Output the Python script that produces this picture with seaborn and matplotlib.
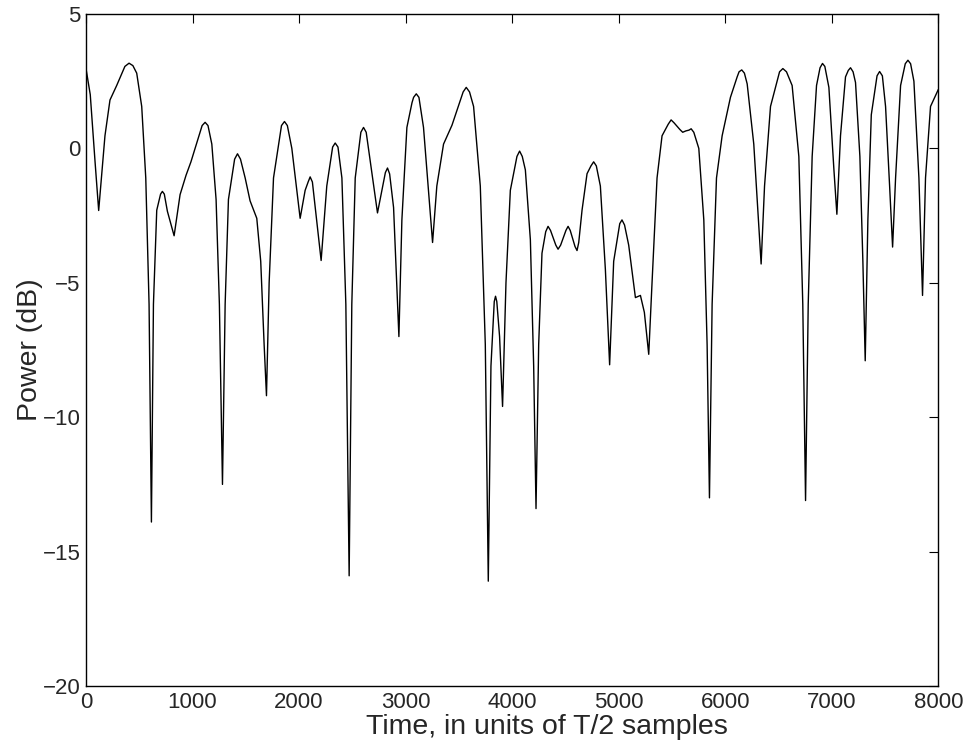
import matplotlib
matplotlib.use("Agg")
import matplotlib.pyplot as plt
import seaborn as sns
import pandas as pd

time_samples = [
    0, 40, 85, 119, 178, 225, 288, 365, 404, 440, 476, 523, 561, 592, 614, 633,
    664, 700, 717, 735, 764, 827, 883, 939, 985, 1024, 1090, 1118, 1145, 1181,
    1221, 1252, 1281, 1306, 1337, 1395, 1422, 1450, 1494, 1540, 1603, 1640,
    1672, 1694, 1719, 1760, 1835, 1863, 1890, 1932, 2010, 2057, 2085, 2104,
    2125, 2207, 2260, 2315, 2339, 2365, 2402, 2439, 2470, 2495, 2527, 2580,
    2605, 2630, 2668, 2736, 2810, 2830, 2850, 2887, 2937, 2965, 3012, 3060,
    3075, 3100, 3125, 3168, 3215, 3253, 3293, 3356, 3435, 3540, 3569, 3600,
    3638, 3701, 3748, 3776, 3801, 3832, 3844, 3856, 3882, 3910, 3942, 3983,
    4045, 4070, 4095, 4124, 4171, 4202, 4224, 4249, 4280, 4315, 4337, 4360,
    4410, 4431, 4455, 4505, 4525, 4545, 4590, 4609, 4625, 4656, 4703, 4740,
    4765, 4790, 4828, 4875, 4915, 4953, 5010, 5031, 5055, 5094, 5120, 5157,
    5204, 5241, 5282, 5313, 5360, 5407, 5465, 5492, 5520, 5575, 5601, 5630,
    5660, 5680, 5705, 5752, 5799, 5830, 5852, 5877, 5918, 5971, 6049, 6112,
    6130, 6155, 6180, 6206, 6268, 6306, 6337, 6369, 6425, 6510, 6541, 6575,
    6628, 6691, 6728, 6754, 6779, 6816, 6857, 6890, 6913, 6935, 6973, 7020,
    7048, 7082, 7129, 7155, 7176, 7200, 7223, 7264, 7292, 7314, 7339, 7371,
    7425, 7449, 7475, 7505, 7543, 7571, 7599, 7646, 7690, 7715, 7740, 7771,
    7818, 7852, 7880, 7927, 8000,
]
power_db = [
    2.97, 2.0, -0.5, -2.31, 0.47, 1.8, 2.34, 3.05, 3.17, 3.08, 2.8, 1.56, -1.1,
    -5.8, -13.9, -5.8, -2.3, -1.7, -1.6, -1.7, -2.34, -3.25, -1.72, -1.0, -0.5,
    0.0, 0.85, 0.97, 0.85, 0.16, -1.9, -5.8, -12.5, -5.8, -1.9, -0.4, -0.2,
    -0.4, -1.1, -1.95, -2.6, -4.2, -7.3, -9.2, -5.0, -1.1, 0.85, 1.0, 0.85,
    0.0, -2.6, -1.56, -1.25, -1.06, -1.25, -4.17, -1.4, 0.05, 0.2, 0.05, -1.1,
    -5.8, -15.9, -5.8, -1.1, 0.6, 0.78, 0.6, -0.47, -2.4, -0.9, -0.73, -0.95,
    -2.2, -7.0, -2.66, 0.78, 1.7, 1.9, 2.03, 1.9, 0.78, -1.56, -3.5, -1.4,
    0.16, 0.86, 2.1, 2.27, 2.1, 1.56, -1.4, -7.3, -16.1, -8.1, -5.7, -5.5,
    -5.7, -7.0, -9.6, -5.0, -1.56, -0.3, -0.1, -0.3, -0.8, -3.4, -8.1, -13.4,
    -7.3, -3.9, -3.1, -2.9, -3.05, -3.6, -3.75, -3.6, -3.05, -2.9, -3.05,
    -3.65, -3.8, -3.5, -2.3, -0.94, -0.65, -0.5, -0.65, -1.4, -4.5, -8.05,
    -4.2, -2.8, -2.66, -2.85, -3.6, -4.4, -5.55, -5.47, -6.1, -7.66, -5.0,
    -1.1, 0.47, 0.9, 1.06, 0.95, 0.7, 0.6, 0.65, 0.68, 0.73, 0.6, 0.0, -2.66,
    -7.3, -13.0, -5.8, -1.1, 0.47, 1.9, 2.66, 2.85, 2.92, 2.8, 2.4, 0.16,
    -2.3, -4.3, -1.4, 1.56, 2.85, 2.97, 2.85, 2.34, -0.3, -5.8, -13.1, -5.8,
    -0.3, 2.34, 3.0, 3.16, 3.05, 2.27, -0.78, -2.45, 0.47, 2.66, 2.9, 3.0,
    2.85, 2.45, -0.3, -4.2, -7.9, -2.66, 1.25, 2.7, 2.86, 2.7, 1.56, -1.4,
    -3.67, -1.1, 2.34, 3.15, 3.28, 3.15, 2.5, -1.1, -5.47, -1.1, 1.56, 2.19,
]
x_ticks = [0, 1000, 2000, 3000, 4000, 5000, 6000, 7000, 8000]
y_ticks = [-20, -15, -10, -5, 0, 5]
x_label = "Time, in units of T/2 samples"
y_label = "Power (dB)"

sns.set_style("white")
plt.rcParams["font.family"] = ["Liberation Sans", "DejaVu Sans"]
plt.rcParams["axes.unicode_minus"] = True

df = pd.DataFrame({"t": time_samples, "p": power_db})

fig = plt.figure(figsize=(9.66, 7.45), dpi=100)
ax = fig.add_axes([86 / 966, 1 - 686 / 745, (938.3 - 86) / 966, (686 - 14) / 745])
sns.lineplot(data=df, x="t", y="p", ax=ax, color="black", linewidth=1.0,
             estimator=None, sort=False)

ax.set_xlim(0, 8000)
ax.set_ylim(-20, 5)
ax.set_xticks(x_ticks)
ax.set_yticks(y_ticks)
ax.set_xticklabels([str(v) for v in x_ticks])
ax.set_yticklabels([str(v).replace("-", "\u2212") for v in y_ticks])
ax.tick_params(direction="in", length=6.2, width=0.8, color="black",
               labelsize=16, top=True, right=True, pad=4)
for s in ax.spines.values():
    s.set_visible(True)
    s.set_color("black")
    s.set_linewidth(1.0)
ax.set_xlabel(x_label, fontsize=20.5)
ax.set_ylabel(y_label, fontsize=20.5)
ax.xaxis.set_label_coords(0.541, -0.041)
ax.yaxis.set_label_coords(-0.05, 0.5)
ax.grid(False)

fig.savefig("out.png", dpi=100, facecolor="white")
